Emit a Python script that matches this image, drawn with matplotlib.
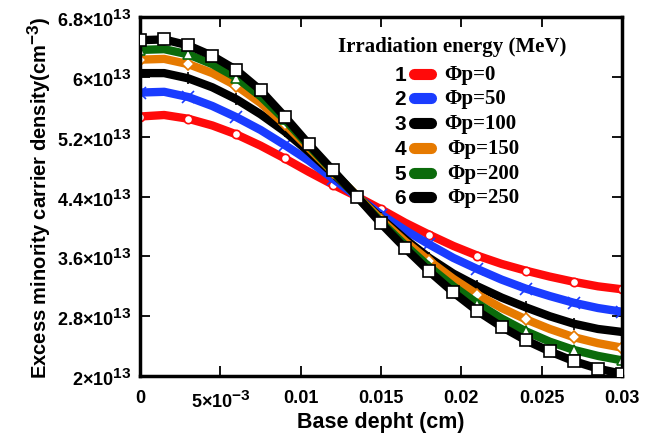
import matplotlib.pyplot as plt
import matplotlib._mathtext as mathtext_internals
import numpy as np

# base depth (cm) and excess minority carrier density (x 1e13 cm^-3)
depth = [0, 0.0015, 0.003, 0.0045, 0.006, 0.0075, 0.009, 0.0105, 0.012, 0.0135,
         0.015, 0.0165, 0.018, 0.0195, 0.021, 0.0225, 0.024, 0.0255, 0.027, 0.0285, 0.03]

phi_0 = [5.47, 5.49, 5.44, 5.35, 5.23, 5.08, 4.91, 4.73, 4.56, 4.40, 4.23,
         4.05, 3.89, 3.74, 3.61, 3.50, 3.41, 3.33, 3.26, 3.20, 3.16]
phi_50 = [5.79, 5.80, 5.73, 5.61, 5.46, 5.29, 5.09, 4.88, 4.64, 4.40, 4.16,
          3.95, 3.76, 3.58, 3.43, 3.29, 3.17, 3.07, 2.98, 2.91, 2.86]
phi_100 = [6.05, 6.05, 5.98, 5.86, 5.70, 5.50, 5.27, 5.00, 4.71, 4.41, 4.11,
           3.83, 3.58, 3.37, 3.20, 3.05, 2.92, 2.80, 2.70, 2.63, 2.59]
phi_150 = [6.23, 6.24, 6.17, 6.05, 5.88, 5.65, 5.37, 5.05, 4.73, 4.41, 4.09,
           3.80, 3.54, 3.30, 3.09, 2.91, 2.76, 2.63, 2.52, 2.44, 2.38]
phi_200 = [6.36, 6.37, 6.30, 6.17, 5.99, 5.74, 5.43, 5.08, 4.74, 4.40, 4.06,
           3.75, 3.46, 3.20, 2.97, 2.77, 2.60, 2.46, 2.35, 2.27, 2.21]
phi_250 = [6.49, 6.50, 6.42, 6.28, 6.09, 5.82, 5.47, 5.10, 4.75, 4.40, 4.04,
           3.71, 3.40, 3.12, 2.87, 2.66, 2.48, 2.33, 2.20, 2.10, 2.03]

labels = ['\u03a6p=0', '\u03a6p=50', '\u03a6p=100', '\u03a6p=150', '\u03a6p=200', '\u03a6p=250']
x_ticks = [0, 0.005, 0.01, 0.015, 0.02, 0.025, 0.03]
x_ticklabels = ['0', r'$5{\times}10^{-3}$', '0.01', '0.015', '0.02', '0.025', '0.03']
y_ticks = [2, 2.8, 3.6, 4.4, 5.2, 6, 6.8]
y_ticklabels = [r'$2{\times}10^{13}$', r'$2.8{\times}10^{13}$', r'$3.6{\times}10^{13}$',
                r'$4.4{\times}10^{13}$', r'$5.2{\times}10^{13}$', r'$6{\times}10^{13}$',
                r'$6.8{\times}10^{13}$']

scale = 1e13

# exponents in the original are nearly full size
mathtext_internals.SHRINK_FACTOR = 0.85

plt.rcParams['font.family'] = 'Liberation Sans'
plt.rcParams['font.weight'] = 'bold'
plt.rcParams['mathtext.fontset'] = 'custom'
plt.rcParams['mathtext.rm'] = 'Liberation Sans:bold'
plt.rcParams['mathtext.bf'] = 'Liberation Sans:bold'
plt.rcParams['mathtext.it'] = 'Liberation Sans:bold'

fig = plt.figure(figsize=(6.67, 4.39), dpi=100)
ax = fig.add_axes([0.21, 0.141, 0.7226, 0.818])

# (values, colour, marker, marker face, marker size, markevery)
styles = [
    (phi_0, '#ff0a0a', 'o', 'white', 6, 2),
    (phi_50, '#1a3cff', 'x', '#1a3cff', 8, 2),
    (phi_100, 'black', '+', 'black', 9, 2),
    (phi_150, '#e67a00', 'D', 'white', 6, 2),
    (phi_200, '#0b6b0b', '^', 'white', 7, 2),
    (phi_250, 'black', 's', 'white', 8, 1),
]

x = np.array(depth)
for i, (vals, c, m, mfc, ms, every) in enumerate(styles):
    y = np.array(vals) * scale
    ax.plot(x, y, color=c, lw=6, solid_capstyle='round', zorder=2 + i * 0.1)
    ax.plot(x[::every], y[::every], ls='none', marker=m, mfc=mfc, mec=c,
            ms=ms, mew=1.2, zorder=2.05 + i * 0.1)

ax.set_xlim(0, 0.03)
ax.set_ylim(2 * scale, 6.8 * scale)
ax.set_xticks(x_ticks)
ax.set_xticklabels(x_ticklabels)
ax.set_yticks([v * scale for v in y_ticks])
ax.set_yticklabels(y_ticklabels)
ax.tick_params(direction='in', length=7, width=1.3, top=True, right=True,
               labelsize=13)
ax.tick_params(axis='x', pad=9)
ax.tick_params(axis='y', pad=6)
for s in ax.spines.values():
    s.set_linewidth(2.5)

ax.set_xlabel('Base depht (cm)', fontsize=15.5, fontweight='bold', labelpad=0)
ax.set_ylabel(r'Excess minority carrier density(cm$^{-3}$)', fontsize=14.5,
              fontweight='bold', labelpad=3)

# hand-made legend
def ax_x(px):
    return (px - 140) / 482.0

def ax_y(py):
    return (377 - py) / 359.0

ax.text(ax_x(452), ax_y(47), 'Irradiation energy (MeV)', transform=ax.transAxes,
        ha='center', va='center', family='Liberation Serif', weight='bold',
        fontsize=15)
entry_y = [75, 99, 124, 149, 174, 198]
for k, (vals, c, m, mfc, ms, every) in enumerate(styles):
    yy = ax_y(entry_y[k])
    ax.text(ax_x(400), yy, str(k + 1), transform=ax.transAxes, ha='center',
            va='center', fontsize=15, weight='bold')
    ax.plot([ax_x(414), ax_x(431)], [yy, yy], transform=ax.transAxes, color=c,
            lw=8, solid_capstyle='round', clip_on=False, zorder=5)
    ax.text(ax_x(444 if k < 3 else 447), yy, labels[k], transform=ax.transAxes,
            ha='left', va='center', family='Liberation Serif', weight='bold',
            fontsize=15)

plt.savefig('out.png', dpi=100)
